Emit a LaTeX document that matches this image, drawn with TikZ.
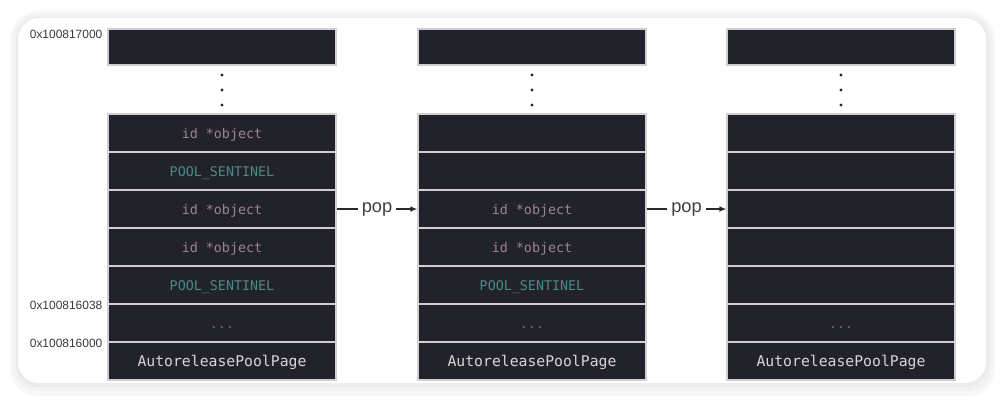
\documentclass[tikz,border=0pt]{standalone}
\usepackage{fontspec}
\setmainfont{Liberation Sans}
\setmonofont{DejaVu Sans Mono}
\usetikzlibrary{positioning}
\usetikzlibrary{arrows.meta}
\definecolor{cellbg}{HTML}{22232A}
\definecolor{cellline}{HTML}{D0D0D4}
\definecolor{objcol}{HTML}{9C8494}
\definecolor{sentcol}{HTML}{4E8A85}
\definecolor{dotcol}{HTML}{6A6A70}
\definecolor{pagecol}{HTML}{D6D6D8}
\definecolor{addrcol}{HTML}{3A3A3A}
\definecolor{arrowcol}{HTML}{2A2A2A}
\tikzset{
    cell/.style = {rectangle, draw=cellline, line width=0.8pt, fill=cellbg, minimum width=5.7cm, minimum height=0.95cm, inner sep=0pt, text height=1.5ex, text depth=0pt, font=\ttfamily\fontsize{9.5}{11}\selectfont},
    topcell/.style = {cell, minimum height=0.9cm},
    objtxt/.style = {text=objcol},
    senttxt/.style = {text=sentcol},
    dotstxt/.style = {text=dotcol},
    pagetxt/.style = {text=pagecol, font=\ttfamily\fontsize{10.5}{12}\selectfont},
    addr/.style = {anchor=east, inner sep=1pt, text=addrcol, font=\fontsize{8.5}{10}\selectfont},
    vdot/.style = {circle, fill=black!85, inner sep=0pt, minimum size=2.4pt},
    edgep/.style = {-{Latex[length=5pt,width=4pt]}, line width=0.9pt, draw=arrowcol},
    poplabel/.style = {fill=white, inner sep=3pt, text=black!75, font=\fontsize{13}{15}\selectfont}
}
\begin{document}
\begin{tikzpicture}[x=0.025cm,y=-0.025cm]
% card and its shadow
\fill[white] (0,0) rectangle (1005,402);
\fill[black!3, rounded corners=20] (10,11) rectangle (995,396);
\fill[black!5, rounded corners=18] (13,14) rectangle (992,391);
\fill[black!8, rounded corners=16] (16,17) rectangle (989,387);
\fill[white, rounded corners=15] (18,18) rectangle (986,383);
%
% first page
\node[topcell] at (222,47) (atop) {};
\node[vdot] at (222,75) (ad1) {};
\node[vdot] at (222,90) (ad2) {};
\node[vdot] at (222,105) (ad3) {};
\node[cell, objtxt] at (222,133) (a1) {id *object};
\node[cell, senttxt] at (222,171) (a2) {POOL\_SENTINEL};
\node[cell, objtxt] at (222,209) (a3) {id *object};
\node[cell, objtxt] at (222,247) (a4) {id *object};
\node[cell, senttxt] at (222,285) (a5) {POOL\_SENTINEL};
\node[cell, dotstxt] at (222,323) (a6) {...};
\node[cell, pagetxt] at (222,361) (a7) {AutoreleasePoolPage};
%
% second page
\node[topcell] at (532,47) (btop) {};
\node[vdot] at (532,75) (bd1) {};
\node[vdot] at (532,90) (bd2) {};
\node[vdot] at (532,105) (bd3) {};
\node[cell] at (532,133) (b1) {};
\node[cell] at (532,171) (b2) {};
\node[cell, objtxt] at (532,209) (b3) {id *object};
\node[cell, objtxt] at (532,247) (b4) {id *object};
\node[cell, senttxt] at (532,285) (b5) {POOL\_SENTINEL};
\node[cell, dotstxt] at (532,323) (b6) {...};
\node[cell, pagetxt] at (532,361) (b7) {AutoreleasePoolPage};
%
% third page
\node[topcell] at (841,47) (ctop) {};
\node[vdot] at (841,75) (cd1) {};
\node[vdot] at (841,90) (cd2) {};
\node[vdot] at (841,105) (cd3) {};
\node[cell] at (841,133) (c1) {};
\node[cell] at (841,171) (c2) {};
\node[cell] at (841,209) (c3) {};
\node[cell] at (841,247) (c4) {};
\node[cell] at (841,285) (c5) {};
\node[cell, dotstxt] at (841,323) (c6) {...};
\node[cell, pagetxt] at (841,361) (c7) {AutoreleasePoolPage};
%
% addresses
\node[addr] at (104,34) (l1) {0x100817000};
\node[addr] at (104,305) (l2) {0x100816038};
\node[addr] at (104,343) (l3) {0x100816000};
%
\draw[edgep] (a3) -- node[poplabel] (p1) {pop} (b3);
\draw[edgep] (b3) -- node[poplabel] (p2) {pop} (c3);

\path[use as bounding box] (0,0) rectangle (1005,402);

\end{tikzpicture}
\end{document}
